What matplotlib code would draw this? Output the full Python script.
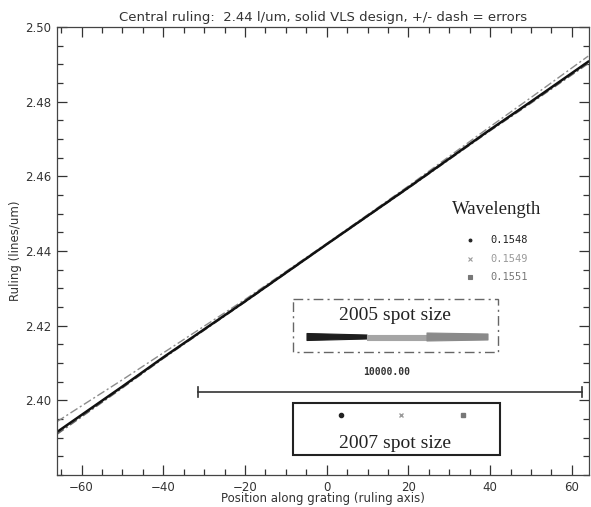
import numpy as np
import matplotlib
matplotlib.use('Agg')
import matplotlib.pyplot as plt

# grating position (mm) and ruling (lines/um)
positions = [-66, -50, -40, -20, 0, 20, 40, 50, 64]
ruling = [2.3915, 2.4037, 2.4115, 2.4265, 2.4418, 2.4570, 2.4725, 2.4800, 2.4907]
err_plus = [0.0028, 0.0018, 0.0012, 0.0005, 0.0002, 0.0004, 0.0008, 0.0011, 0.0015]
err_minus = [0.0006, 0.0004, 0.0003, 0.0002, 0.0001, 0.0002, 0.0003, 0.0004, 0.0005]

wavelengths = ['0.1548', '0.1549', '0.1551']
wl_colors = ['#222222', '#9a9a9a', '#777777']
wl_markers = ['.', 'x', 's']

x_ticks = [-60, -40, -20, 0, 20, 40, 60]
y_ticks = [2.40, 2.42, 2.44, 2.46, 2.48, 2.50]

TXT = '#333333'

fig = plt.figure(figsize=(5.91, 5.07), dpi=100)
ax = fig.add_axes([57 / 591, 32 / 507, 532 / 591, 448 / 507])

pos = np.array(positions)
rul = np.array(ruling)
ax.plot(pos, rul + np.array(err_plus), color='#8c8c8c', lw=1.0,
        ls=(0, (6, 2, 1.5, 2)))
ax.plot(pos, rul - np.array(err_minus), color='#666666', lw=1.0,
        ls=(0, (6, 2, 1.5, 2)))
ax.plot(pos, rul, color='#111111', lw=1.8)

ax.set_xlim(-66, 64.2)
ax.set_ylim(2.38, 2.50)
ax.set_xticks(x_ticks)
ax.set_xticks(np.arange(-65, 65, 5), minor=True)
ax.set_yticks(y_ticks)
ax.set_yticks(np.arange(2.38, 2.5001, 0.005), minor=True)
ax.set_yticklabels([f'{v:.2f}' for v in y_ticks])
ax.tick_params(which='both', direction='in', top=True, right=True,
               colors=TXT, labelsize=8.5, width=0.9)
ax.tick_params(which='major', length=7, pad=4)
ax.tick_params(which='minor', length=4)
for sp in ax.spines.values():
    sp.set_color('#444444')
    sp.set_linewidth(0.9)

ax.set_xlabel('Position along grating (ruling axis)', color=TXT,
              fontsize=8.5, labelpad=-1)
ax.set_ylabel('Ruling (lines/um)', color=TXT, fontsize=8.5, labelpad=2)
ax.set_title('Central ruling:  2.44 l/um, solid VLS design, +/- dash = errors',
             color=TXT, fontsize=9.5, pad=4)

# overlay in pixel coordinates for the pasted-in spot size inset
ov = fig.add_axes([0, 0, 1, 1], zorder=5)
ov.set_xlim(0, 591)
ov.set_ylim(507, 0)
ov.axis('off')
ov.patch.set_alpha(0)

ov.text(497, 210, 'Wavelength', family='Liberation Serif', fontsize=13.5,
        color='#222222', ha='center', va='center')
for i, (wl, c, m) in enumerate(zip(wavelengths, wl_colors, wl_markers)):
    y = 240 + i * 18.5
    ov.plot(470, y, marker=m, color=c, ms=3 if m != '.' else 4, mew=0.8)
    ov.text(490, y, wl, family='DejaVu Sans Mono', fontsize=7.5, color=c,
            va='center', ha='left')

# 2005 spot size box
ov.add_patch(plt.Rectangle((293, 299), 205, 53, fill=False, ec='#666666',
                           lw=1.0, ls=(0, (7, 3, 1.5, 3))))
ov.text(395, 315, '2005 spot size', family='Liberation Serif', fontsize=14,
        color='#222222', ha='center', va='center')
seg_x = [(307, 367), (367, 427), (427, 488)]
seg_h = [(7, 4), (5, 5), (8, 6)]
seg_c = ['#1e1e1e', '#a5a5a5', '#8a8a8a']
for (x0, x1), (h0, h1), c in zip(seg_x, seg_h, seg_c):
    ov.fill([x0, x1, x1, x0], [337 - h0 / 2, 337 - h1 / 2, 337 + h1 / 2, 337 + h0 / 2],
            color=c, lw=0.8, ec=c, joinstyle='round')

ov.text(387, 372, '10000.00', family='DejaVu Sans Mono', fontsize=7,
        weight='bold', color='#333333', ha='center', va='center')
ov.plot([198, 582], [392, 392], color='#333333', lw=1.2)
ov.plot([198, 198], [387, 397], color='#333333', lw=1.2)
ov.plot([582, 582], [387, 397], color='#333333', lw=1.2)

# 2007 spot size box
ov.add_patch(plt.Rectangle((293, 403), 207, 52, fill=False, ec='#222222', lw=1.5))
spot_x = [341, 401, 463]
for sx, c, m in zip(spot_x, wl_colors, ['o', 'x', 's']):
    ov.plot(sx, 415, marker=m, color=c, ms=3, mew=1.0)
ov.text(395, 443, '2007 spot size', family='Liberation Serif', fontsize=14,
        color='#222222', ha='center', va='center')

fig.savefig('out.png', dpi=100)
